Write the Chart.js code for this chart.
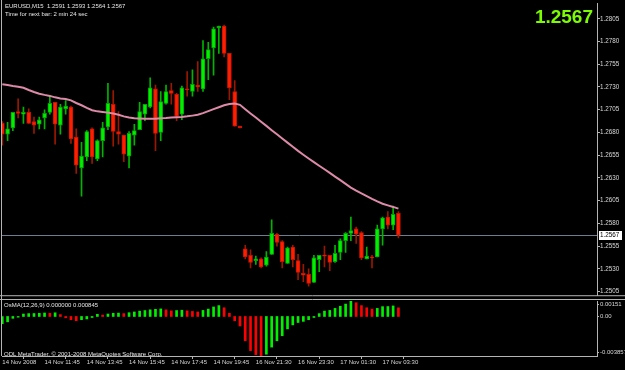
<!DOCTYPE html>
<html>
<head>
<meta charset="utf-8">
<script src="https://cdn.jsdelivr.net/npm/chart.js@4.4.0/dist/chart.umd.min.js"></script>
<style>
	html, body { margin: 0; padding: 0; background: #000; }
	#wrap { position: relative; width: 625px; height: 370px; overflow: hidden; background: #000; font-family: 'Liberation Sans', Arial, sans-serif; }
	canvas { position: absolute; left: 0; }
	.txt { position: absolute; color: #e6e6e6; font-size: 6px; line-height: 8px; white-space: nowrap; }
	#big-price { position: absolute; right: 32px; top: 7px; color: #7cfc00; font: bold 19px 'Liberation Sans', Arial, sans-serif; line-height: 19px; }
</style>
</head>
<body>
<div id="wrap">
	<canvas id="price-chart" width="625" height="299" style="top:0"></canvas>
	<canvas id="osma-chart" width="625" height="71" style="top:299px"></canvas>
	<div class="txt" style="left:5px;top:2px">EURUSD,M15&nbsp; 1.2591 1.2593 1.2564 1.2567</div>
	<div class="txt" style="left:5px;top:10px">Time for next bar: 2 min 24 sec</div>
	<div id="big-price">1.2567</div>
	<div class="txt" style="left:4px;top:301px">OsMA(12,26,9) 0.000000 0.000845</div>
	<div class="txt" style="left:4px;top:350px">ODL MetaTrader, © 2001-2008 MetaQuotes Software Corp.</div>
</div>
<script>
// EURUSD M15 candles, 14 Nov 09:45 .. 17 Nov 04:15 (bar index 0..75)
const opens = [1.2690,1.2678,1.2685,1.2703,1.2700,1.2702,1.2692,1.2689,1.2696,1.2702,
	1.2713,1.2688,1.2706,1.2708,1.2675,1.2641,1.2653,1.2684,1.2651,1.2671,
	1.2686,1.2711,1.2681,1.2677,1.2654,1.2677,1.2683,1.2700,1.2708,1.2728,
	1.2680,1.2712,1.2726,1.2722,1.2700,1.2728,1.2725,1.2732,1.2728,1.2761,
	1.2773,1.2795,1.2797,1.2767,1.2725,1.2687,1.2552,1.2545,1.2539,1.2541,
	1.2534,1.2546,1.2568,1.2560,1.2536,1.2554,1.2539,1.2525,1.2524,1.2515,
	1.2540,1.2545,1.2545,1.2538,1.2548,1.2561,1.2569,1.2574,1.2570,1.2541,
	1.2543,1.2543,1.2574,1.2587,1.2578,1.2591];
const highs = [1.2692,1.2691,1.2702,1.2717,1.2708,1.2706,1.2697,1.2697,1.2705,1.2720,
	1.2713,1.2711,1.2715,1.2709,1.2684,1.2669,1.2682,1.2685,1.2672,1.2691,
	1.2734,1.2726,1.2703,1.2677,1.2681,1.2689,1.2713,1.2711,1.2740,1.2732,
	1.2725,1.2732,1.2734,1.2723,1.2731,1.2747,1.2749,1.2758,1.2781,1.2779,
	1.2796,1.2797,1.2798,1.2767,1.2737,1.2687,1.2556,1.2551,1.2544,1.2542,
	1.2549,1.2584,1.2569,1.2561,1.2554,1.2556,1.2546,1.2535,1.2530,1.2545,
	1.2545,1.2555,1.2545,1.2556,1.2563,1.2570,1.2587,1.2576,1.2571,1.2554,
	1.2545,1.2578,1.2587,1.2593,1.2599,1.2593];
const lows = [1.2666,1.2671,1.2682,1.2696,1.2690,1.2690,1.2679,1.2684,1.2684,1.2700,
	1.2667,1.2678,1.2700,1.2668,1.2635,1.2610,1.2649,1.2646,1.2649,1.2653,
	1.2683,1.2665,1.2667,1.2648,1.2641,1.2666,1.2683,1.2693,1.2707,1.2660,
	1.2671,1.2711,1.2711,1.2693,1.2694,1.2720,1.2720,1.2725,1.2725,1.2738,
	1.2743,1.2767,1.2763,1.2716,1.2687,1.2685,1.2541,1.2531,1.2535,1.2531,
	1.2533,1.2546,1.2555,1.2531,1.2536,1.2532,1.2518,1.2516,1.2511,1.2515,
	1.2527,1.2532,1.2528,1.2537,1.2540,1.2548,1.2561,1.2558,1.2540,1.2541,
	1.2531,1.2543,1.2556,1.2574,1.2573,1.2564];
const closes = [1.2678,1.2684,1.2702,1.2701,1.2702,1.2690,1.2688,1.2694,1.2701,1.2712,
	1.2689,1.2708,1.2709,1.2673,1.2644,1.2654,1.2681,1.2653,1.2671,1.2685,
	1.2712,1.2681,1.2678,1.2656,1.2679,1.2682,1.2703,1.2711,1.2729,1.2679,
	1.2714,1.2725,1.2723,1.2698,1.2729,1.2727,1.2733,1.2730,1.2761,1.2771,
	1.2794,1.2797,1.2767,1.2729,1.2687,1.2685,1.2543,1.2537,1.2541,1.2532,
	1.2543,1.2569,1.2559,1.2538,1.2553,1.2540,1.2526,1.2523,1.2514,1.2542,
	1.2545,1.2544,1.2537,1.2547,1.2561,1.2569,1.2572,1.2568,1.2542,1.2544,
	1.2542,1.2574,1.2586,1.2578,1.2590,1.2567];

// pink moving average
const maValues = [1.27330,1.27321,1.27310,1.27302,1.27291,1.27267,1.27245,1.27226,1.27213,1.27202,
	1.27186,1.27173,1.27168,1.27153,1.27124,1.27099,1.27070,1.27045,1.27032,1.27025,
	1.27018,1.27009,1.26994,1.26977,1.26964,1.26956,1.26954,1.26952,1.26951,1.26952,
	1.26955,1.26958,1.26964,1.26967,1.26971,1.26977,1.26985,1.26994,1.27012,1.27034,
	1.27056,1.27077,1.27099,1.27113,1.27118,1.27104,1.27056,1.27009,1.26964,1.26917,
	1.26872,1.26825,1.26780,1.26734,1.26688,1.26642,1.26597,1.26555,1.26514,1.26474,
	1.26434,1.26395,1.26355,1.26315,1.26275,1.26234,1.26194,1.26160,1.26129,1.26100,
	1.26070,1.26042,1.26016,1.25998,1.25981,1.25962];

// OsMA(12,26,9) histogram
const osmaValues = [-0.00069,-0.00052,-0.00018,-0.00007,0.00024,0.00028,0.00029,0.00031,0.00034,0.00031,
	0.00036,0.00018,-0.00013,-0.00031,-0.00041,-0.00031,-0.00024,-0.00010,0.00021,0.00013,
	0.00024,0.00031,0.00033,0.00028,0.00037,0.00044,0.00052,0.00058,0.00065,0.00070,
	0.00074,0.00065,0.00055,0.00058,0.00061,0.00055,0.00049,0.00044,0.00059,0.00072,
	0.00093,0.00106,0.00085,0.00031,-0.00041,-0.00093,-0.00237,-0.00333,-0.00372,-0.003857,
	-0.00368,-0.00299,-0.00237,-0.00188,-0.00121,-0.00082,-0.00059,-0.00048,-0.00031,-0.00010,
	0.00028,0.00052,0.00059,0.00079,0.00100,0.00121,0.00151,0.00134,0.00106,0.00085,
	0.00072,0.00079,0.00096,0.00097,0.00103,0.000845];

const priceTicks = [1.2505,1.2530,1.2555,1.2580,1.2605,1.2630,1.2655,1.2680,1.2705,1.2730,1.2755,1.2780,1.2805];
const osmaTicks = [0.00151, 0, -0.003857];
const osmaTickLabels = ['0.00151', '0.00', '-0.003857'];
const timeIdx = [0, 8, 16, 24, 32, 40, 48, 56, 64, 72];
const timeLabels = ['14 Nov 2008','14 Nov 11:45','14 Nov 13:45','14 Nov 15:45','14 Nov 17:45',
	'14 Nov 19:45','16 Nov 21:30','16 Nov 23:30','17 Nov 01:30','17 Nov 03:30'];

const frameColor = '#b4b4b4';
const textColor = '#d8d8d8';
const axisFont = { family: 'Liberation Sans', size: 6.3 };

Chart.defaults.font.family = 'Liberation Sans';
Chart.defaults.font.size = 6;
Chart.defaults.color = textColor;

const xRange = { min: -0.057, max: 112.6 };
const isBull = closes.map((c, i) => c >= opens[i]);

// horizontal bid line, frame and price box on the main panel
const priceDecor = {
	id: 'priceDecor',
	beforeDatasetsDraw(chart) {
		const { ctx, chartArea, scales } = chart;
		const y = Math.round(scales.y.getPixelForValue(closes[closes.length - 1])) + 0.5;
		ctx.save();
		ctx.strokeStyle = '#6e7e8e';
		ctx.lineWidth = 1;
		ctx.beginPath();
		ctx.moveTo(chartArea.left, y);
		ctx.lineTo(chartArea.right, y);
		ctx.stroke();
		ctx.restore();
	},
	afterDraw(chart) {
		const { ctx, chartArea, scales } = chart;
		const last = closes[closes.length - 1];
		const y = Math.round(scales.y.getPixelForValue(last));
		ctx.save();
		ctx.strokeStyle = frameColor;
		ctx.lineWidth = 1;
		ctx.beginPath();
		ctx.moveTo(1.5, 0);
		ctx.lineTo(1.5, chart.height);
		ctx.moveTo(0, chartArea.bottom + 0.5);
		ctx.lineTo(chart.width, chartArea.bottom + 0.5);
		ctx.stroke();
		ctx.fillStyle = '#ffffff';
		ctx.fillRect(chartArea.right + 2, y - 4, 23, 9);
		ctx.fillStyle = '#000000';
		ctx.font = '6.3px "Liberation Sans"';
		ctx.textBaseline = 'middle';
		ctx.fillText(last.toFixed(4), chartArea.right + 3, y + 0.5);
		ctx.restore();
	}
};

// frame and y labels of the OsMA panel
const osmaDecor = {
	id: 'osmaDecor',
	afterDraw(chart) {
		const { ctx, chartArea, scales } = chart;
		ctx.save();
		ctx.strokeStyle = frameColor;
		ctx.lineWidth = 1;
		ctx.beginPath();
		ctx.moveTo(0, 0.5);
		ctx.lineTo(chart.width, 0.5);
		ctx.moveTo(1.5, 0);
		ctx.lineTo(1.5, chartArea.bottom);
		ctx.stroke();
		ctx.fillStyle = textColor;
		ctx.font = '6px "Liberation Sans"';
		ctx.textBaseline = 'middle';
		osmaTicks.forEach((v, i) => {
			let y = scales.y.getPixelForValue(v);
			y = Math.min(Math.max(y, chartArea.top + 3), chartArea.bottom - 4);
			ctx.beginPath();
			ctx.moveTo(chartArea.right, Math.round(y) + 0.5);
			ctx.lineTo(chartArea.right + 2, Math.round(y) + 0.5);
			ctx.stroke();
			ctx.fillText(osmaTickLabels[i], chartArea.right + 3, y);
		});
		ctx.restore();
	}
};

new Chart(document.getElementById('price-chart'), {
	type: 'bar',
	data: {
		datasets: [
			{
				label: 'Wicks',
				data: lows.map((l, i) => ({ x: i, y: [l, highs[i]] })),
				backgroundColor: isBull.map(b => b ? '#00b400' : '#9a1800'),
				barThickness: 1,
				grouped: false,
				order: 3
			},
			{
				label: 'Bodies',
				data: opens.map((o, i) => ({ x: i, y: [o, closes[i]] })),
				backgroundColor: isBull.map(b => b ? '#00f000' : '#ff1e00'),
				borderColor: isBull.map(b => b ? '#00a400' : '#c41400'),
				borderWidth: 1,
				borderSkipped: false,
				barThickness: 4,
				minBarLength: 1,
				grouped: false,
				order: 2
			},
			{
				type: 'line',
				label: 'MA',
				data: maValues.map((v, i) => ({ x: i, y: v })),
				borderColor: '#dc8aa8',
				borderWidth: 2,
				pointRadius: 0,
				tension: 0,
				order: 1
			}
		]
	},
	options: {
		responsive: false,
		animation: false,
		devicePixelRatio: 1,
		layout: { padding: { left: 2, right: 0, top: 1, bottom: 2 } },
		plugins: { legend: { display: false }, tooltip: { enabled: false } },
		scales: {
			x: { type: 'linear', min: xRange.min, max: xRange.max, offset: false, display: false },
			y: {
				position: 'right',
				min: 1.2501,
				max: 1.28215,
				afterFit(scale) { scale.width = 28; },
				afterBuildTicks(scale) { scale.ticks = priceTicks.map(v => ({ value: v })); },
				ticks: {
					autoSkip: false,
					padding: 0,
					font: axisFont,
					color: textColor,
					callback: v => v.toFixed(4)
				},
				grid: { drawOnChartArea: false, tickLength: 3, color: frameColor },
				border: { display: true, color: frameColor }
			}
		}
	},
	plugins: [priceDecor]
});

new Chart(document.getElementById('osma-chart'), {
	type: 'bar',
	data: {
		datasets: [{
			label: 'OsMA',
			data: osmaValues.map((v, i) => ({ x: i, y: v })),
			backgroundColor: osmaValues.map((v, i) => (i === 0 || v >= osmaValues[i - 1]) ? '#00f000' : '#ff0000'),
			barThickness: 2
		}]
	},
	options: {
		responsive: false,
		animation: false,
		devicePixelRatio: 1,
		layout: { padding: { left: 2, right: 0, top: 2, bottom: 0 } },
		plugins: { legend: { display: false }, tooltip: { enabled: false } },
		scales: {
			x: {
				type: 'linear',
				min: xRange.min,
				max: xRange.max,
				offset: false,
				afterFit(scale) { scale.height = 14; },
				afterBuildTicks(scale) { scale.ticks = timeIdx.map(v => ({ value: v })); },
				ticks: {
					autoSkip: false,
					maxRotation: 0,
					align: 'start',
					padding: 0,
					font: { family: 'Liberation Sans', size: 6 },
					color: textColor,
					callback: v => timeLabels[timeIdx.indexOf(v)]
				},
				grid: { drawOnChartArea: false, tickLength: 3, color: frameColor },
				border: { display: true, color: frameColor }
			},
			y: {
				position: 'right',
				min: -0.003857,
				max: 0.00151,
				afterFit(scale) { scale.width = 28; },
				ticks: { display: false },
				grid: { display: false },
				border: { display: true, color: frameColor }
			}
		}
	},
	plugins: [osmaDecor]
});
</script>
</body>
</html>
